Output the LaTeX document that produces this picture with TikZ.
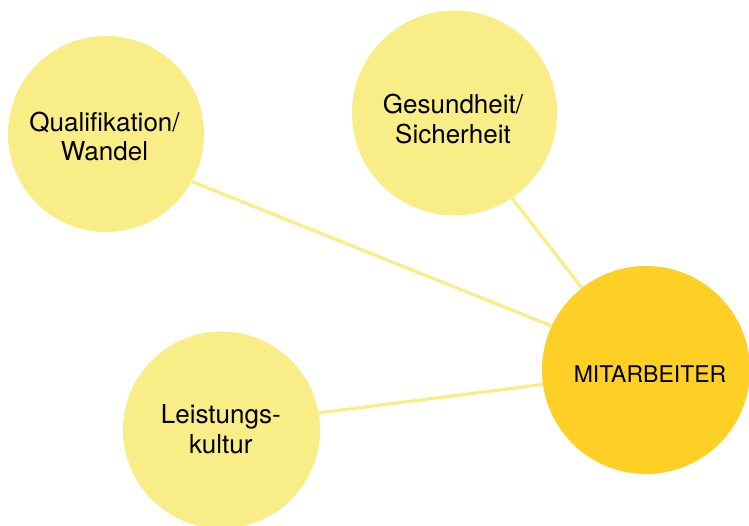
\documentclass[tikz,border=0pt]{standalone}
\usepackage{fontspec}
\setmainfont{TeX Gyre Heros}
\definecolor{softyellow}{RGB}{249,237,136}
\definecolor{strongyellow}{RGB}{254,208,38}
\begin{document}
\begin{tikzpicture}[x=1pt,y=-1pt,
  bubble/.style={circle,fill=softyellow,draw=none,inner sep=0pt},
  core/.style={circle,fill=strongyellow,draw=none,inner sep=0pt},
  tag/.style={align=center,text=black,inner sep=0pt,font=\fontsize{26}{29.5}\selectfont},
  coretag/.style={text=black,inner sep=0pt,font=\fontsize{23}{27}\selectfont},
  link/.style={draw=softyellow,line width=3.2pt}]
  \useasboundingbox (0,0) rectangle (749,526);

  % circles
  \node[bubble,minimum size=196pt] (qual) at (106,134) {};
  \node[bubble,minimum size=205pt] (gesund) at (454.5,113) {};
  \node[bubble,minimum size=197pt] (leist) at (221.5,430) {};
  \node[core,minimum size=208pt] (mit) at (646,370) {};

  % connectors
  \draw[link] (qual.-29.2) -- (mit.155.4);
  \draw[link] (gesund.-56) -- (mit.128.4);
  \draw[link] (leist.10.5) -- (mit.188.8);

  % labels
  \node[tag] (qualtext) at (104.5,136.4) {Qualifikation/\\Wandel};
  \node[tag] (gesundtext) at (453,119.2) {Gesundheit/\\Sicherheit};
  \node[tag] (leisttext) at (220.8,429.2) {Leistungs-\\kultur};
  \node[coretag] (mittext) at (650,374) {MITARBEITER};
\end{tikzpicture}
\end{document}
